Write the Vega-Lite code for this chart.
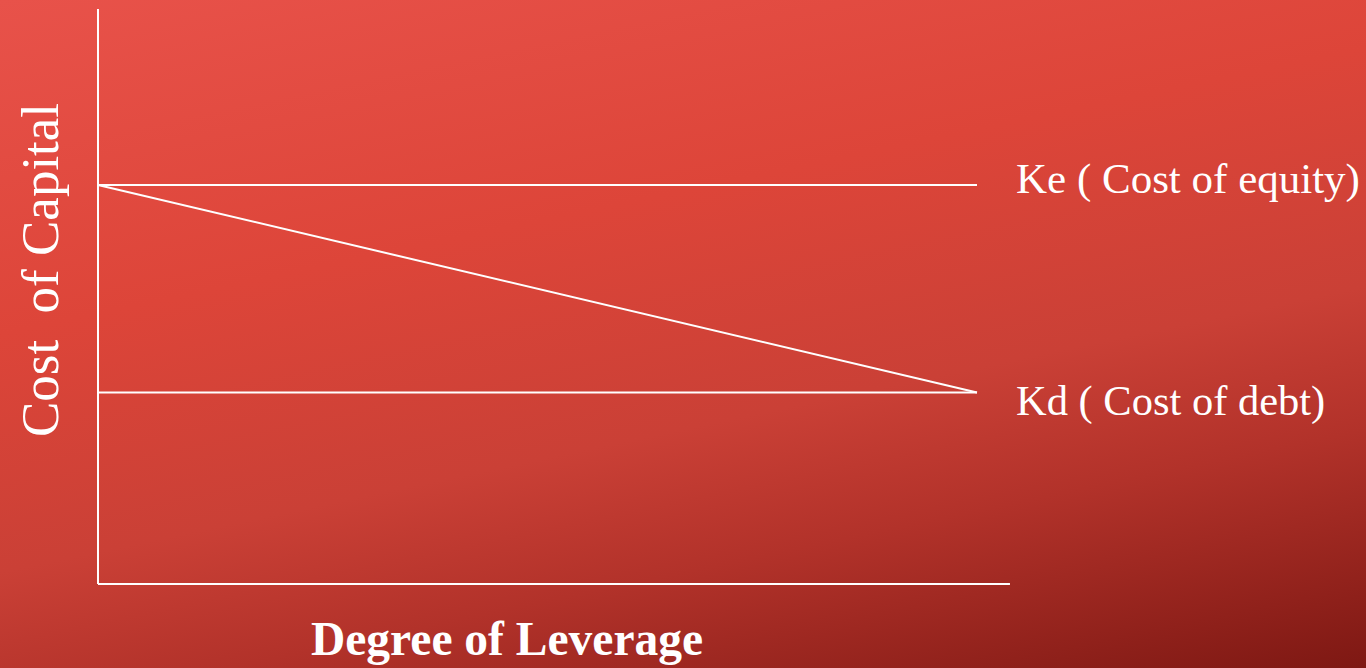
{
  "$schema": "https://vega.github.io/schema/vega-lite/v6.json",
  "width": 1366,
  "height": 668,
  "padding": 0,
  "autosize": {"type": "fit", "contains": "padding"},
  "background": "#c43a31",
  "config": {
    "view": {
      "stroke": null,
      "fill": {
        "gradient": "linear",
        "x1": 0, "y1": 0,
        "x2": 0.517, "y2": 1.207,
        "stops": [
          {"offset": 0, "color": "#e8524a"},
          {"offset": 0.35, "color": "#dd4539"},
          {"offset": 0.6, "color": "#ca4036"},
          {"offset": 0.75, "color": "#b2322a"},
          {"offset": 1, "color": "#7e1813"}
        ]
      }
    },
    "text": {"font": "Liberation Serif", "color": "white"}
  },
  "datasets": {
    "segments": [
      {"line": "y axis", "lev0": 0, "cost0": 0, "lev1": 0, "cost1": 14.41},
      {"line": "x axis", "lev0": 0, "cost0": 0, "lev1": 10.375, "cost1": 0},
      {"line": "Ke", "lev0": 0, "cost0": 10, "lev1": 10, "cost1": 10},
      {"line": "Kd", "lev0": 0, "cost0": 4.8, "lev1": 10, "cost1": 4.8},
      {"line": "Ko", "lev0": 0, "cost0": 10, "lev1": 10, "cost1": 4.8}
    ],
    "labels": [
      {"line": "Ke", "label": "Ke ( Cost of equity)", "lev": 10, "cost": 10},
      {"line": "Kd", "label": "Kd ( Cost of debt)", "lev": 10, "cost": 4.8}
    ]
  },
  "layer": [
    {
      "data": {"name": "segments"},
      "mark": {"type": "rule", "color": "white", "strokeWidth": 2},
      "encoding": {
        "x": {"field": "lev0", "type": "quantitative", "scale": {"domain": [-1.1149, 14.4255], "nice": false, "zero": false}, "axis": null},
        "x2": {"field": "lev1"},
        "y": {"field": "cost0", "type": "quantitative", "scale": {"domain": [-2.1053, 14.6366], "nice": false, "zero": false}, "axis": null},
        "y2": {"field": "cost1"}
      }
    },
    {
      "data": {"name": "labels"},
      "transform": [{"filter": "datum.line === 'Ke'"}],
      "mark": {"type": "text", "align": "left", "baseline": "alphabetic", "fontSize": 43, "dx": 39, "dy": 8},
      "encoding": {
        "x": {"field": "lev", "type": "quantitative"},
        "y": {"field": "cost", "type": "quantitative"},
        "text": {"field": "label"}
      }
    },
    {
      "data": {"name": "labels"},
      "transform": [{"filter": "datum.line === 'Kd'"}],
      "mark": {"type": "text", "align": "left", "baseline": "alphabetic", "fontSize": 42.5, "dx": 39, "dy": 23},
      "encoding": {
        "x": {"field": "lev", "type": "quantitative"},
        "y": {"field": "cost", "type": "quantitative"},
        "text": {"field": "label"}
      }
    },
    {
      "data": {"values": [{"title": "Cost\u00a0 of Capital"}]},
      "mark": {"type": "text", "align": "center", "baseline": "alphabetic", "angle": 270, "fontSize": 53},
      "encoding": {
        "x": {"datum": -0.455, "type": "quantitative"},
        "y": {"datum": 7.87, "type": "quantitative"},
        "text": {"field": "title"}
      }
    },
    {
      "data": {"values": [{"title": "Degree of Leverage"}]},
      "mark": {"type": "text", "align": "center", "baseline": "alphabetic", "fontSize": 47.5, "fontWeight": "bold"},
      "encoding": {
        "x": {"datum": 4.653, "type": "quantitative"},
        "y": {"datum": -1.779, "type": "quantitative"},
        "text": {"field": "title"}
      }
    }
  ]
}
